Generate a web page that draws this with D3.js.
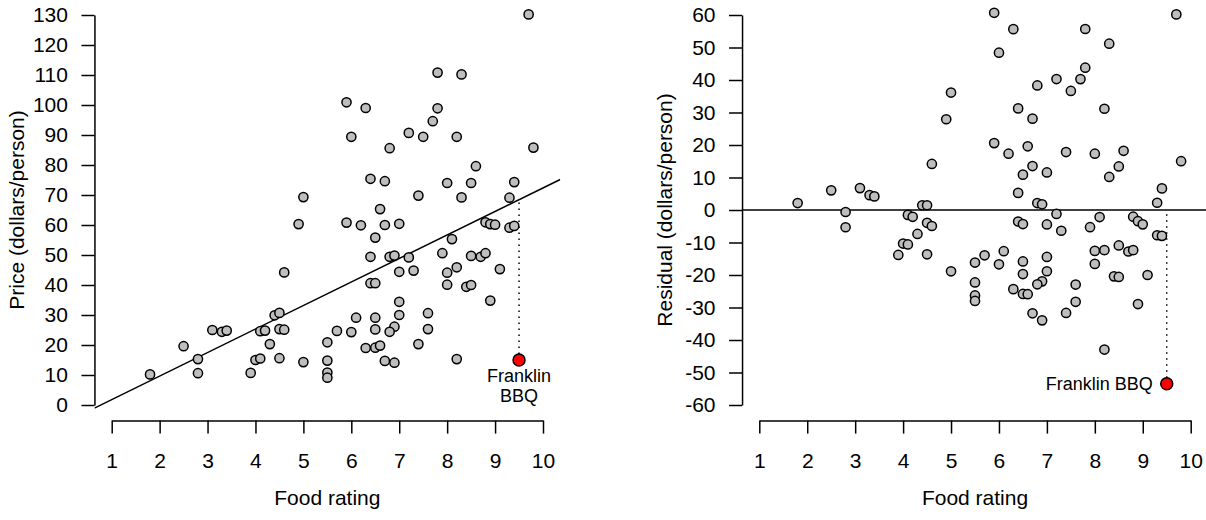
<!DOCTYPE html>
<html>
<head>
<meta charset="utf-8">
<script src="https://cdn.jsdelivr.net/npm/d3@7"></script>
<style>
  body { margin: 0; background: #fff; }
  svg { display: block; }
</style>
</head>
<body>
<svg id="chart" width="1206" height="520"></svg>
<script>
// restaurants: food rating and price (dollars/person)
const foodRating = [
  1.8, 2.5, 2.8, 2.8, 3.1, 3.3, 3.4, 3.9, 4.0, 4.1,
  4.1, 4.2, 4.3, 4.4, 4.5, 4.5, 4.6, 4.5, 4.6, 5.0,
  5.5, 5.5, 5.5, 5.5, 5.7, 6.0, 6.1, 6.3, 6.4, 6.5,
  6.5, 6.5, 6.5, 6.6, 6.4, 6.8, 6.9, 7.2, 7.0, 7.3,
  7.0, 7.0, 6.9, 6.8, 6.7, 6.9, 7.4, 7.6, 7.6, 7.9,
  8.0, 8.0, 8.2, 8.4, 8.5, 8.5, 8.7, 8.8, 8.9, 9.1,
  8.2, 9.7, 7.8, 8.3, 5.9, 6.3, 7.8, 7.7, 6.0, 7.2,
  7.5, 8.2, 6.8, 9.8, 8.6, 6.4, 6.7, 8.0, 8.5, 9.4,
  5.0, 7.4, 8.3, 9.3, 6.6, 4.9, 5.9, 6.2, 6.7, 7.0,
  6.5, 8.1, 8.8, 8.9, 9.0, 9.3, 9.4
];
const price = [
  10.2, 19.6, 15.3, 10.6, 25.0, 24.4, 24.8, 10.7, 15.0, 15.5,
  24.6, 24.8, 20.3, 29.9, 30.7, 25.3, 25.1, 15.6, 44.2, 14.3,
  20.9, 14.8, 10.8, 9.1, 24.7, 24.3, 29.1, 19.0, 40.6, 40.6,
  29.1, 25.2, 19.1, 19.8, 49.4, 49.4, 49.8, 49.2, 44.4, 44.8,
  34.4, 30.0, 26.1, 24.4, 14.7, 14.1, 20.3, 30.6, 25.3, 50.6,
  44.1, 40.1, 45.9, 39.4, 40.0, 49.7, 49.4, 50.6, 34.8, 45.3,
  15.3, 130.2, 110.8, 110.2, 100.9, 99.0, 98.9, 94.6, 89.4, 90.7,
  89.4, 89.4, 85.6, 85.8, 79.6, 75.4, 74.6, 74.0, 74.0, 74.3,
  69.3, 69.8, 69.2, 69.1, 65.3, 60.3, 60.8, 59.9, 60.0, 60.4,
  55.8, 55.3, 60.9, 60.3, 60.1, 59.1, 59.7
];

// the highlighted restaurant
const highlightName = "Franklin BBQ";
const highlightFood = 9.5;
const highlightPrice = 15.0;

// least-squares line as drawn in the left panel
const fitIntercept = -6.04;
const fitSlope = 7.84;

const xTicks = [1, 2, 3, 4, 5, 6, 7, 8, 9, 10];
const priceTicks = [0, 10, 20, 30, 40, 50, 60, 70, 80, 90, 100, 110, 120, 130];
const residTicks = [-60, -50, -40, -30, -20, -10, 0, 10, 20, 30, 40, 50, 60];

const fitted = f => fitIntercept + fitSlope * f;
const residual = price.map((p, i) => p - fitted(foodRating[i]));
const highlightResidual = highlightPrice - fitted(highlightFood);

const svg = d3.select("#chart");
const font = "'Liberation Sans', Arial, Helvetica, sans-serif";

function drawPanel(cfg) {
  const x = d3.scaleLinear().domain([1, 10]).range(cfg.xRange);
  const y = d3.scaleLinear().domain(cfg.yDomain).range([405, 15]);
  const g = svg.append("g");

  // plot region, R style 4% padding round the limits
  const xPad = 0.04 * 9;
  const yPad = 0.04 * (cfg.yDomain[1] - cfg.yDomain[0]);
  const clipId = "clip-" + cfg.id;
  svg.append("clipPath").attr("id", clipId)
    .append("rect")
    .attr("x", x(1 - xPad)).attr("y", y(cfg.yDomain[1] + yPad))
    .attr("width", x(10 + xPad) - x(1 - xPad))
    .attr("height", y(cfg.yDomain[0] - yPad) - y(cfg.yDomain[1] + yPad));

  const plotBottom = y(cfg.yDomain[0] - yPad);
  const plotLeft = x(1 - xPad);

  // axes
  const xAxis = g.append("g")
    .attr("transform", `translate(0,${plotBottom})`)
    .call(d3.axisBottom(x).tickValues(xTicks).tickSize(13).tickSizeOuter(0)
      .tickPadding(19).tickFormat(d => String(d)));
  const yAxis = g.append("g")
    .attr("transform", `translate(${plotLeft},0)`)
    .call(d3.axisLeft(y).tickValues(cfg.yTicks).tickSize(13).tickSizeOuter(0)
      .tickPadding(13.5).tickFormat(d => String(d)));
  [xAxis, yAxis].forEach(a => {
    a.attr("font-family", font).attr("font-size", 21);
    a.selectAll("path, line").attr("stroke", "#000").attr("stroke-width", 1.5);
    a.selectAll("text").attr("fill", "#000");
  });

  // axis titles
  g.append("text")
    .attr("x", (x(1 - xPad) + x(10 + xPad)) / 2).attr("y", 505)
    .attr("text-anchor", "middle")
    .attr("font-family", font).attr("font-size", 21)
    .text("Food rating");
  g.append("text")
    .attr("transform", `translate(${cfg.yTitleX},210) rotate(-90)`)
    .attr("text-anchor", "middle")
    .attr("font-family", font).attr("font-size", 21)
    .text(cfg.yTitle);

  const plot = g.append("g").attr("clip-path", `url(#${clipId})`);

  // reference line
  plot.append("line")
    .attr("x1", x(1 - xPad)).attr("y1", y(cfg.lineAt(1 - xPad)))
    .attr("x2", x(10 + xPad)).attr("y2", y(cfg.lineAt(10 + xPad)))
    .attr("stroke", "#000").attr("stroke-width", 1.5);

  // dotted drop from the highlighted point to the line
  plot.append("line")
    .attr("x1", x(highlightFood)).attr("y1", y(cfg.highlightY))
    .attr("x2", x(highlightFood)).attr("y2", y(cfg.lineAt(highlightFood)))
    .attr("stroke", "#000").attr("stroke-width", 1.5)
    .attr("stroke-dasharray", "1.5,4.5");

  plot.selectAll("circle.pt")
    .data(foodRating.map((f, i) => [f, cfg.values[i]]))
    .join("circle")
    .attr("class", "pt")
    .attr("cx", d => x(d[0])).attr("cy", d => y(d[1]))
    .attr("r", 4.6)
    .attr("fill", "#bebebe").attr("stroke", "#000").attr("stroke-width", 1.5);

  plot.append("circle")
    .attr("cx", x(highlightFood)).attr("cy", y(cfg.highlightY))
    .attr("r", 6)
    .attr("fill", "#ff0000").attr("stroke", "#000").attr("stroke-width", 1.5);

  cfg.label(g, x(highlightFood), y(cfg.highlightY));
}

// left: price against food rating, with the fitted line
drawPanel({
  id: "price",
  xRange: [111.7, 543],
  yDomain: [0, 130],
  yTicks: priceTicks,
  yTitle: "Price (dollars/person)",
  yTitleX: 24,
  values: price,
  highlightY: highlightPrice,
  lineAt: fitted,
  label: (g, px, py) => {
    const t = g.append("text")
      .attr("text-anchor", "middle")
      .attr("font-family", font).attr("font-size", 18);
    const words = highlightName.split(" ");
    t.append("tspan").attr("x", px).attr("y", py + 22).text(words[0]);
    t.append("tspan").attr("x", px).attr("y", py + 42).text(words[1]);
  }
});

// right: residuals against food rating
drawPanel({
  id: "resid",
  xRange: [759.3, 1190.7],
  yDomain: [-60, 60],
  yTicks: residTicks,
  yTitle: "Residual (dollars/person)",
  yTitleX: 672,
  values: residual,
  highlightY: highlightResidual,
  lineAt: () => 0,
  label: (g, px, py) => {
    g.append("text")
      .attr("x", px - 14).attr("y", py + 6.5)
      .attr("text-anchor", "end")
      .attr("font-family", font).attr("font-size", 18)
      .text(highlightName);
  }
});
</script>
</body>
</html>
